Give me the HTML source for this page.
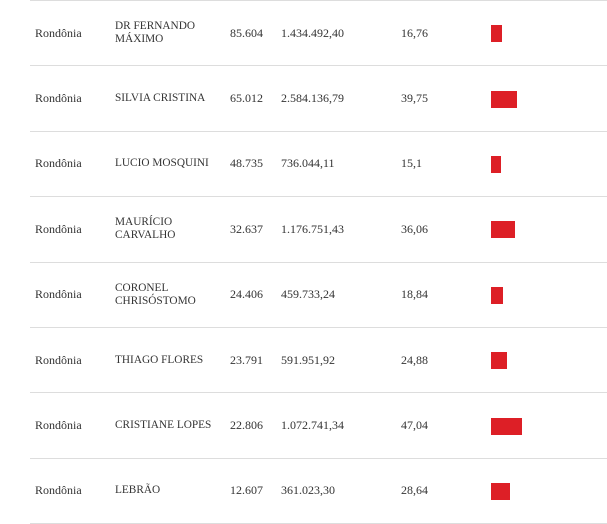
<!DOCTYPE html>
<html><head><meta charset="utf-8"><style>
body{margin:0;width:607px;height:524px;background:#fff;overflow:hidden;font-family:"Liberation Serif","DejaVu Serif",serif;color:#333}
#t{position:absolute;left:30px;top:0;width:577px;height:524px}
.row{position:absolute;left:0;width:577px;border-top:1px solid #ddd;box-sizing:border-box}
.c{position:absolute;top:0;bottom:0;display:flex;align-items:center;font-size:12px;line-height:13px}
.bar{position:absolute;left:461px;height:17px;background:#dd1f26}
</style></head><body>
<div id="t">
<div class="row" style="top:523px"></div>
</div>
<script>
const states=["Rondônia","Rondônia","Rondônia","Rondônia","Rondônia","Rondônia","Rondônia","Rondônia"];
const names=["DR FERNANDO<br>MÁXIMO","SILVIA CRISTINA","LUCIO MOSQUINI","MAURÍCIO<br>CARVALHO","CORONEL<br>CHRISÓSTOMO","THIAGO FLORES","CRISTIANE LOPES","LEBRÃO"];
const votes=["85.604","65.012","48.735","32.637","24.406","23.791","22.806","12.607"];
const spending=["1.434.492,40","2.584.136,79","736.044,11","1.176.751,43","459.733,24","591.951,92","1.072.741,34","361.023,30"];
const costPerVote=[16.76,39.75,15.1,36.06,18.84,24.88,47.04,28.64];
const t=document.getElementById('t');
const rowH=65.4;
const xScale=v=>v*0.66;
const fmt=v=>String(v).replace('.',',');
const cols=[5,85,200,251,371];
for(let i=0;i<states.length;i++){
  const r=document.createElement('div');
  r.className='row';
  
  
  r.style.top=(i*rowH)+'px';r.style.height=rowH+'px';
  const vals=[states[i],names[i],votes[i],spending[i],fmt(costPerVote[i])];
  const nm=['state-cell','name-cell','votes-cell','spending-cell','cost-per-vote-cell'];
  vals.forEach((v,j)=>{
    const c=document.createElement('div');
    c.className='c';
    
    
    c.style.left=cols[j]+'px';
    if(j===1)c.style.fontSize='11.3px';
    c.innerHTML=v;
    r.appendChild(c);
  });
  const b=document.createElement('div');
  b.className='bar';
  
  
  b.style.width=xScale(costPerVote[i])+'px';
  b.style.top=(rowH/2-8.5)+'px';
  r.appendChild(b);
  t.appendChild(r);
}
</script>
</body></html>
